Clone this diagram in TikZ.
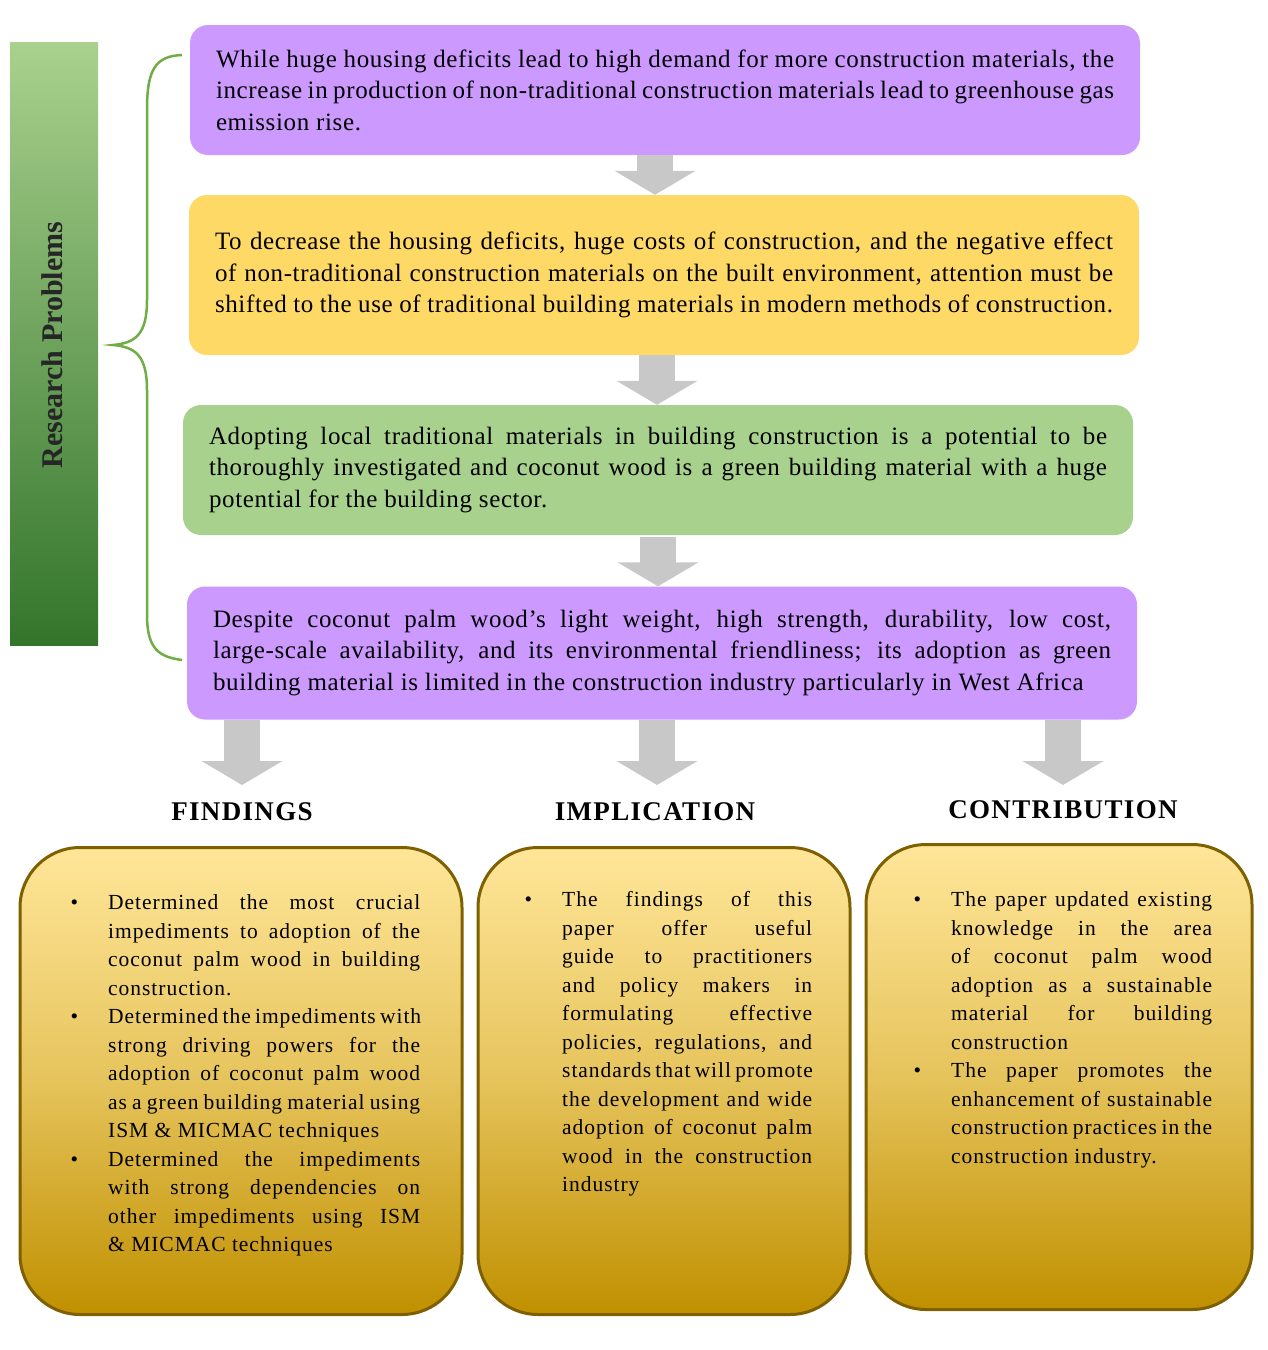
\documentclass[tikz,border=0pt]{standalone}
\usepackage{fontspec}
\setmainfont{Liberation Serif}
\usepackage{enumitem}
\usetikzlibrary{arrows.meta}
\definecolor{purp}{HTML}{CC99FF}
\definecolor{yel}{HTML}{FFD966}
\definecolor{grn}{HTML}{A9D18E}
\definecolor{gold1}{HTML}{FFE699}
\definecolor{gold2}{HTML}{C09000}
\definecolor{goldb}{HTML}{7F6000}
\definecolor{garr}{HTML}{C8C8C8}
\definecolor{brc}{HTML}{70AD47}
\hyphenpenalty=10000 \exhyphenpenalty=10000
\tikzset{
 topbox/.style={rounded corners=18pt, minimum width=950pt, text width=898pt, align=justify, inner sep=0pt, font=\fontsize{25}{31.5}\selectfont\addfontfeatures{LetterSpace=2.5}},
 bigarrow/.style={draw=garr, line width=36pt, -{Triangle[width=80pt,length=24pt]}},
 botbox/.style={rounded corners=60pt, draw=goldb, line width=3pt, top color=gold1, bottom color=gold2, middle color=gold1!60!gold2},
 bottext/.style={anchor=north west, inner sep=0pt, font=\fontsize{21.5}{28.5}\selectfont\addfontfeatures{LetterSpace=4.5}, align=justify},
 head/.style={font=\fontsize{27}{30}\selectfont\bfseries\addfontfeatures{LetterSpace=5}}
}
\begin{document}
\begin{tikzpicture}[x=1pt,y=-1pt]
\useasboundingbox (0,0) rectangle (1268,1350);
\node[fill=white, minimum width=1268pt, minimum height=1350pt, anchor=north west] (bg) at (0,0) {};
% left bar
\node[top color=grn, bottom color=green!30!black!70!grn, minimum width=88pt, minimum height=603pt, inner sep=0pt] (bar) at (54,344) {};
\node[rotate=90, font=\fontsize{30}{32}\selectfont\bfseries, text=black!85] (rp) at (52,345) {Research Problems};
% brace
\draw[draw=brc, line width=2.5pt] (182,55) .. controls (155,56) and (147,70) .. (147,110) -- (147,300) .. controls (147,335) and (135,343) .. (113,345) .. controls (135,347) and (147,355) .. (147,390) -- (147,615) .. controls (147,650) and (160,657) .. (182,660);
% top boxes
\node[topbox, fill=purp, minimum height=130pt] (b1) at (665,90) {While huge housing deficits lead to high demand for more construction materials, the increase in production of non-traditional construction materials lead to greenhouse gas emission rise.};
\node[topbox, fill=yel, minimum height=160pt] (b2) at (664,275) {To decrease the housing deficits, huge costs of construction, and the negative effect of non-traditional construction materials on the built environment, attention must be shifted to the use of traditional building materials in modern methods of construction.};
\node[topbox, fill=grn, minimum height=130pt] (b3) at (658,470) {Adopting local traditional materials in building construction is a potential to be thoroughly investigated and coconut wood is a green building material with a huge potential for the building sector.};
\node[topbox, fill=purp, minimum height=133pt] (b4) at (662,653) {Despite coconut palm wood’s light weight, high strength, durability, low cost, large-scale availability, and its environmental friendliness; its adoption as green building material is limited in the construction industry particularly in West Africa};
\coordinate (s1) at (655,155);
\coordinate (s2) at (657,355);
\coordinate (s3) at (658,537);
\draw[bigarrow] (s1) -- (s1 |- b2.north);
\draw[bigarrow] (s2) -- (s2 |- b3.north);
\draw[bigarrow] (s3) -- (s3 |- b4.north);
\coordinate (a1) at (242,785);
\coordinate (a2) at (657,785);
\coordinate (a3) at (1063,785);
\draw[bigarrow] (a1 |- b4.south) -- (a1);
\draw[bigarrow] (a2 |- b4.south) -- (a2);
\draw[bigarrow] (a3 |- b4.south) -- (a3);
\node[head] (h1) at (242,812) {FINDINGS};
\node[head] (h2) at (655,812) {IMPLICATION};
\node[head] (h3) at (1063,810) {CONTRIBUTION};
% bottom boxes
\node[botbox, minimum width=442pt, minimum height=467pt] (f) at (241,1081) {};
\node[botbox, minimum width=372pt, minimum height=467pt] (i) at (664,1081) {};
\node[botbox, minimum width=386pt, minimum height=465pt] (c) at (1059,1077) {};
\node[bottext, text width=354pt] (ft) at (66,881) {\begin{itemize}[leftmargin=42pt,labelsep=30pt,itemsep=0pt,topsep=0pt,parsep=0pt]
\item Determined the most crucial impediments to adoption of the coconut palm wood in building construction.
\item Determined the impediments with strong driving powers for the adoption of coconut palm wood as a green building material using ISM \& MICMAC techniques
\item Determined the impediments with strong dependencies on other impediments using ISM \& MICMAC techniques
\end{itemize}};
\node[bottext, text width=292pt] (it) at (520,878) {\begin{itemize}[leftmargin=42pt,labelsep=30pt,itemsep=0pt,topsep=0pt,parsep=0pt]
\item The findings of this paper offer useful guide to practitioners and policy makers in formulating effective policies, regulations, and standards that will promote the development and wide adoption of coconut palm wood in the construction industry
\end{itemize}};
\node[bottext, text width=303pt] (ct) at (909,878) {\begin{itemize}[leftmargin=42pt,labelsep=30pt,itemsep=0pt,topsep=0pt,parsep=0pt]
\item The paper updated existing knowledge in the area of coconut palm wood adoption as a sustainable material for building construction
\item The paper promotes the enhancement of sustainable construction practices in the construction industry.
\end{itemize}};
\end{tikzpicture}
\end{document}
